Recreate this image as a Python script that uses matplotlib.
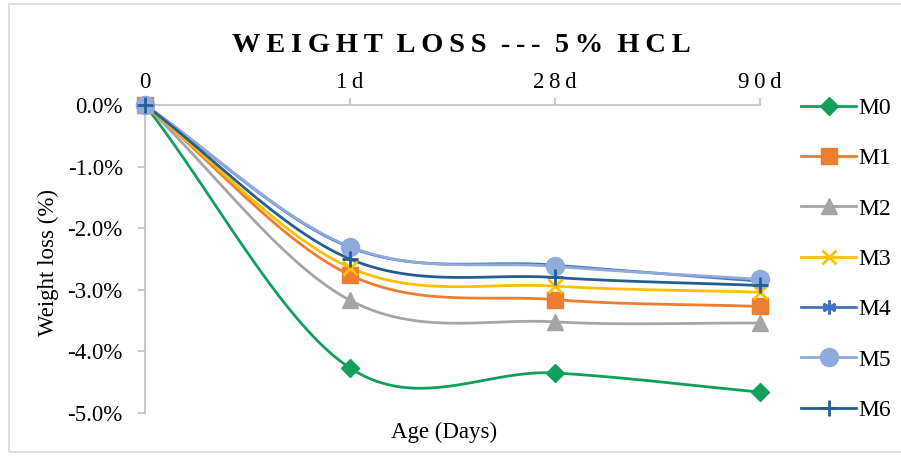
import numpy as np
import matplotlib
matplotlib.use("Agg")
import matplotlib.pyplot as plt
from matplotlib.patches import Rectangle
from matplotlib.lines import Line2D

categories = ["0", "1d", "28d", "90d"]
series_names = ["M0", "M1", "M2", "M3", "M4", "M5", "M6"]
M0 = [0.0, -4.27, -4.35, -4.66]
M1 = [0.0, -2.76, -3.16, -3.27]
M2 = [0.0, -3.17, -3.52, -3.54]
M3 = [0.0, -2.64, -2.94, -3.04]
M4 = [0.0, -2.31, -2.60, -2.86]
M5 = [0.0, -2.30, -2.62, -2.83]
M6 = [0.0, -2.50, -2.80, -2.93]
series_values = [M0, M1, M2, M3, M4, M5, M6]
y_ticks = [0, -1, -2, -3, -4, -5]

colors = ["#10A05A", "#ED7D31", "#A5A5A5", "#FFC000", "#4472C4", "#8FAADC", "#255E91"]
markers = ["D", "s", "^", "x", (6, 2, 0), "o", "+"]
msizes = [9.5, 11, 11, 10, 10, 13, 12]

plt.rcParams['font.family'] = ['Liberation Serif', 'DejaVu Serif']
TS = "\u2009"

def smooth(y, n=40):
    y = np.asarray(y, float)
    x = np.arange(len(y), dtype=float)
    xs, ys = [], []
    for i in range(len(y) - 1):
        p0 = y[i - 1] if i > 0 else y[i]
        p3 = y[i + 2] if i + 2 < len(y) else y[i + 1]
        p1, p2 = y[i], y[i + 1]
        m1 = (p2 - p0) / 2 if i > 0 else (p2 - p1)
        m2 = (p3 - p1) / 2 if i + 2 < len(y) else (p2 - p1)
        t = np.linspace(0, 1, n)
        h00 = 2*t**3 - 3*t**2 + 1
        h10 = t**3 - 2*t**2 + t
        h01 = -2*t**3 + 3*t**2
        h11 = t**3 - t**2
        ys.append(h00*p1 + h10*m1 + h01*p2 + h11*m2)
        xs.append(x[i] + t)
    return np.concatenate(xs), np.concatenate(ys)

fig = plt.figure(figsize=(9.01, 4.57), dpi=100)
fig.patches.append(Rectangle((8.5/901, 1 - 451.5/457), 1.1, (451.5 - 4) / 457,
                             transform=fig.transFigure, fill=False,
                             edgecolor="#D9D9D9", linewidth=1.2))

ax = fig.add_axes([145/901, 1 - 413/457, (760 - 145)/901, (413 - 105)/457])
x = np.arange(len(categories))
handles = []
for name, vals, c, m, ms in zip(series_names, series_values, colors, markers, msizes):
    xs, ys = smooth(vals)
    ax.plot(xs, ys, color=c, linewidth=2, clip_on=False, zorder=3)
    mew = 2 if m in ("x", "+") or isinstance(m, tuple) else 1
    ax.plot(x, vals, linestyle="none", marker=m, markersize=ms, color=c,
            markeredgewidth=mew, clip_on=False, zorder=4)
    handles.append(Line2D([], [], color=c, linewidth=2, marker=m, markersize=ms,
                          markeredgewidth=mew, label=name))

ax.set_xlim(0, 3)
ax.set_ylim(-5, 0)
ax.xaxis.tick_top()
ax.set_xticks(x)
ax.set_xticklabels([TS.join(list(c)) for c in categories], fontsize=16.5)
ax.set_yticks(y_ticks)
ax.set_yticklabels([f"{v:.1f}%" for v in y_ticks], fontsize=16.5)
for s in ["right", "bottom"]:
    ax.spines[s].set_visible(False)
for s in ["top", "left"]:
    ax.spines[s].set_color("#BFBFBF")
    ax.spines[s].set_linewidth(1.2)
ax.tick_params(axis="both", colors="#BFBFBF", length=5, width=1.2, labelcolor="black")
ax.tick_params(axis="x", pad=4)
ax.tick_params(axis="y", pad=11)

title = "  ".join(TS.join(list(w)) for w in ["WEIGHT", "LOSS", "---", "5%", "HCL"])
fig.text(461/901, 1 - 45/457, title, ha="center", va="center", fontsize=20.5, fontweight="bold")
fig.text(48/901, 1 - 262/457, "Weight loss (%)", rotation=90, ha="center", va="center", fontsize=16.5)
fig.text(444/901, 1 - 432/457, "Age (Days)", ha="center", va="center", fontsize=16.5)

fig.legend(handles=handles, loc="upper left", bbox_to_anchor=(792/901, 1 - 88/457),
           frameon=False, fontsize=17, handlelength=2.3, handletextpad=0.1,
           labelspacing=1.22, borderaxespad=0)

fig.savefig("out.png", dpi=100)
